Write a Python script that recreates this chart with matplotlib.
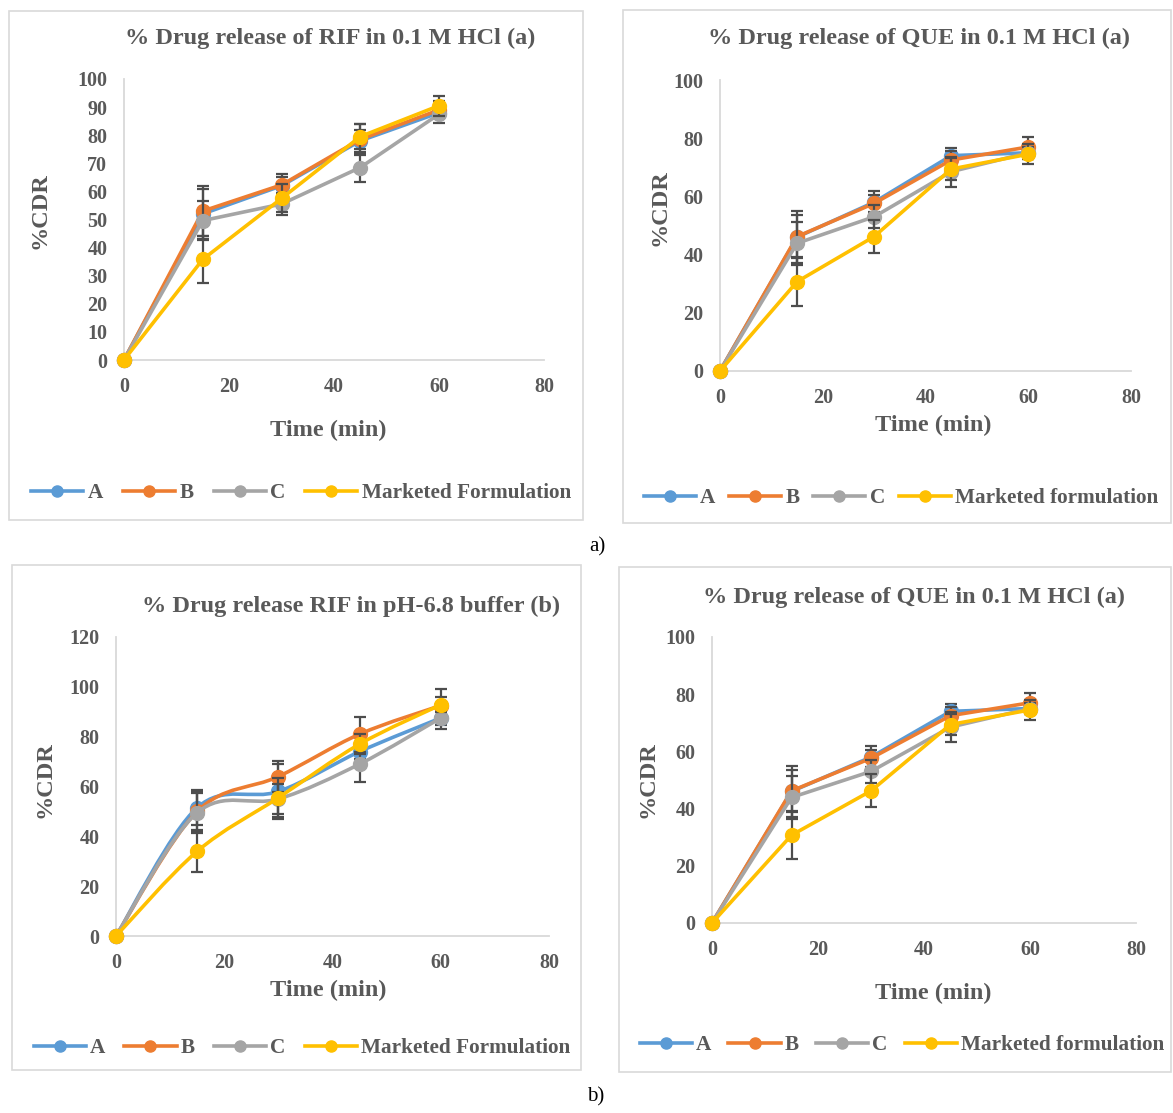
import numpy as np
import matplotlib
matplotlib.use('Agg')
import matplotlib.pyplot as plt
from matplotlib.path import Path
from matplotlib.patches import PathPatch, Rectangle
from matplotlib.lines import Line2D

# ---------------- data ----------------
time_min = [0, 15, 30, 45, 60]

# Panel 1: RIF in 0.1 M HCl
rif_hcl_A = [0, 52, 62, 78, 88]
rif_hcl_B = [0, 53, 62.3, 78.5, 89]
rif_hcl_C = [0, 49.6, 55.5, 68.5, 87.5]
rif_hcl_M = [0, 35.8, 57.5, 79.5, 90.5]
rif_hcl_A_err = [0, 9, 3, 4, 2]
rif_hcl_B_err = [0, 9, 4, 5.5, 3]
rif_hcl_C_err = [0, 7, 4, 5, 3]
rif_hcl_M_err = [0, 8.5, 5, 4.5, 3.5]

# Panel 2 / 4: QUE in 0.1 M HCl
que_hcl_A = [0, 46, 58, 74, 75]
que_hcl_B = [0, 46.2, 57.6, 72.5, 77]
que_hcl_C = [0, 43.9, 53, 68.5, 75]
que_hcl_M = [0, 30.7, 46.2, 69.4, 74.5]
que_hcl_A_err = [0, 9, 4, 2.7, 2]
que_hcl_B_err = [0, 7.4, 3, 3, 3.5]
que_hcl_C_err = [0, 7.4, 4, 5.2, 2]
que_hcl_M_err = [0, 8.4, 5.8, 3.8, 3.5]

# Panel 3: RIF in pH-6.8 buffer
rif_ph_A = [0, 51.5, 58, 74, 87.5]
rif_ph_B = [0, 50, 64, 81, 92.5]
rif_ph_C = [0, 49.5, 55, 69, 87.5]
rif_ph_M = [0, 34, 55.5, 77, 92.8]
rif_ph_A_err = [0, 7, 11, 3, 3]
rif_ph_B_err = [0, 8, 6.3, 7, 6.5]
rif_ph_C_err = [0, 8, 6, 7, 4.5]
rif_ph_M_err = [0, 8.5, 7.8, 4, 3]

colors = ['#5B9BD5', '#ED7D31', '#A5A5A5', '#FFC000']
TXT = '#595959'
FONT = 'Liberation Serif'

W, H = 1173, 1113
fig = plt.figure(figsize=(W / 100, H / 100), dpi=100)
fig.patch.set_facecolor('white')


def fx(px):
    return px / W


def fy(py):
    return 1 - py / H


def smooth_path(x, y):
    x = np.asarray(x, float)
    y = np.asarray(y, float)
    n = len(x)
    verts = [(x[0], y[0])]
    codes = [Path.MOVETO]
    for i in range(n - 1):
        i0 = max(i - 1, 0)
        i3 = min(i + 2, n - 1)
        c1 = (x[i] + (x[i + 1] - x[i0]) / 6, y[i] + (y[i + 1] - y[i0]) / 6)
        c2 = (x[i + 1] - (x[i3] - x[i]) / 6, y[i + 1] - (y[i3] - y[i]) / 6)
        verts += [c1, c2, (x[i + 1], y[i + 1])]
        codes += [Path.CURVE4] * 3
    return Path(verts, codes)


LW = 2.6
MS = 10


def panel(box, x0, x1, y0, y1, ymax, ystep, title, tpos, xlab, ylab,
          leg_pos, colsp, legend_names, series, errs, smooth=False):
    # outer chart border
    l, t, r, b = box
    fig.add_artist(Rectangle((fx(l), fy(b)), fx(r - l), (b - t) / H,
                             transform=fig.transFigure, fill=False,
                             edgecolor='#D9D9D9', lw=1.2))
    ax = fig.add_axes([fx(x0), fy(y0), fx(x1 - x0), (y0 - y1) / H])
    ax.set_xlim(0, 80)
    ax.set_ylim(0, ymax)
    ax.set_xticks([0, 20, 40, 60, 80])
    ax.set_yticks(np.arange(0, ymax + 1, ystep))
    for s in ['top', 'right']:
        ax.spines[s].set_visible(False)
    for s in ['left', 'bottom']:
        ax.spines[s].set_color('#D9D9D9')
        ax.spines[s].set_linewidth(1.3)
    ax.tick_params(length=0, labelsize=14.5, labelcolor=TXT)
    ax.tick_params(axis='y', pad=12)
    ax.tick_params(axis='x', pad=12)
    for lab in ax.get_xticklabels() + ax.get_yticklabels():
        lab.set_fontfamily(FONT)
        lab.set_fontweight('bold')
    ax.patch.set_alpha(0)

    for k, (ys, es) in enumerate(zip(series, errs)):
        z = 3 + k
        ax.errorbar(time_min, ys, yerr=es, fmt='none', ecolor='#4D4D4D',
                    elinewidth=1.6, capsize=4.5, capthick=1.6, zorder=z,
                    clip_on=False)
        if smooth:
            ax.add_patch(PathPatch(smooth_path(time_min, ys), fill=False,
                                   edgecolor=colors[k], lw=LW, zorder=z + 0.1,
                                   capstyle='round', joinstyle='round'))
            ax.plot(time_min, ys, 'o', color=colors[k], ms=MS, zorder=z + 0.2,
                    clip_on=False)
        else:
            ax.plot(time_min, ys, '-o', color=colors[k], lw=LW, ms=MS,
                    zorder=z + 0.2, clip_on=False, solid_joinstyle='round')

    fig.text(fx(tpos[0]), fy(tpos[1]), title, ha='center', va='center',
             fontsize=17.5, fontweight='bold', family=FONT, color=TXT)
    fig.text(fx(xlab[0]), fy(xlab[1]), 'Time (min)', ha='center',
             va='center', fontsize=17.5, fontweight='bold', family=FONT,
             color=TXT)
    fig.text(fx(ylab[0]), fy(ylab[1]), '%CDR', ha='center', va='center',
             rotation=90, fontsize=17.5, fontweight='bold', family=FONT,
             color=TXT)
    handles = [Line2D([], [], color=c, lw=LW, marker='o', ms=8) for c in colors]
    fig.legend(handles, legend_names, loc='center',
               bbox_to_anchor=(fx(leg_pos[0]), fy(leg_pos[1])), ncol=4,
               frameon=False, handlelength=2.45, handletextpad=0.2,
               columnspacing=colsp,
               prop={'family': FONT, 'weight': 'bold', 'size': 15.3},
               labelcolor=TXT)
    return ax


names_F = ['A', 'B', 'C', 'Marketed Formulation']
names_f = ['A', 'B', 'C', 'Marketed formulation']

panel((9, 11, 583, 520), 124, 544, 360, 79, 100, 10,
      '% Drug release of RIF in 0.1 M HCl (a)', (330, 38), (328, 430),
      (40, 211), (301, 493), 0.95, names_F,
      [rif_hcl_A, rif_hcl_B, rif_hcl_C, rif_hcl_M],
      [rif_hcl_A_err, rif_hcl_B_err, rif_hcl_C_err, rif_hcl_M_err])

panel((623, 10, 1171, 523), 720, 1131, 371, 80, 100, 20,
      '% Drug release of QUE in 0.1 M HCl (a)', (919, 38), (933, 425),
      (660, 208), (901, 498), 0.65, names_f,
      [que_hcl_A, que_hcl_B, que_hcl_C, que_hcl_M],
      [que_hcl_A_err, que_hcl_B_err, que_hcl_C_err, que_hcl_M_err])

panel((12, 565, 581, 1070), 116, 549, 936, 637, 120, 20,
      '% Drug release RIF in pH-6.8 buffer (b)', (351, 606), (328, 990),
      (45, 780), (302, 1048), 0.9, names_F,
      [rif_ph_A, rif_ph_B, rif_ph_C, rif_ph_M],
      [rif_ph_A_err, rif_ph_B_err, rif_ph_C_err, rif_ph_M_err], smooth=True)

panel((619, 567, 1171, 1072), 712, 1136, 923, 637, 100, 20,
      '% Drug release of QUE in 0.1 M HCl (a)', (914, 597), (933, 993),
      (648, 780), (902, 1045), 0.8, names_f,
      [que_hcl_A, que_hcl_B, que_hcl_C, que_hcl_M],
      [que_hcl_A_err, que_hcl_B_err, que_hcl_C_err, que_hcl_M_err])

fig.text(fx(597), fy(547), 'a)', ha='center', va='center', fontsize=15,
         family=FONT, color='black')
fig.text(fx(596), fy(1097), 'b)', ha='center', va='center', fontsize=15,
         family=FONT, color='black')

fig.savefig('out.png', dpi=100, facecolor='white')
